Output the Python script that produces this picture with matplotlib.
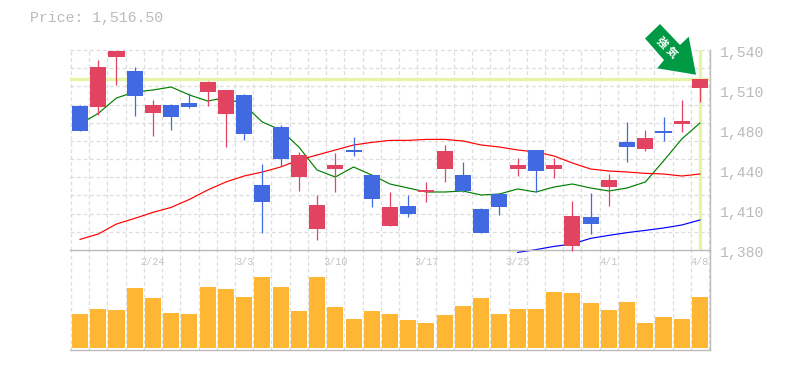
import numpy as np
import matplotlib
matplotlib.use('Agg')
import matplotlib.pyplot as plt
from matplotlib.patches import Polygon, Rectangle

# Daily prices
opens = [1495.2, 1494.4, 1534.4, 1523.2, 1489.6, 1496.0, 1497.6, 1506.4, 1488.8, 1504.0,
         1432.0, 1478.4, 1438.4, 1396.8, 1444.8, 1460.0, 1440.0, 1399.2, 1415.2, 1426.4,
         1444.8, 1440.0, 1412.8, 1424.8, 1444.8, 1460.0, 1444.8, 1383.2, 1406.4, 1430.4,
         1466.4, 1460.8, 1475.2, 1480.8, 1509.6]
closes = [1475.2, 1526.4, 1539.5, 1503.2, 1496.0, 1486.4, 1494.4, 1514.4, 1508.0, 1472.8,
          1418.4, 1452.8, 1456.0, 1416.0, 1448.0, 1458.4, 1420.8, 1414.4, 1408.8, 1428.0,
          1459.2, 1427.2, 1393.6, 1414.4, 1448.0, 1443.2, 1448.0, 1407.2, 1400.8, 1436.0,
          1462.4, 1469.6, 1473.6, 1483.2, 1516.5]
highs = [1496.0, 1532.0, 1539.5, 1526.4, 1500.0, 1496.8, 1505.6, 1515.2, 1508.0, 1504.8,
         1448.8, 1480.0, 1458.4, 1424.0, 1457.6, 1470.4, 1440.0, 1426.4, 1424.0, 1434.4,
         1464.0, 1450.4, 1413.6, 1425.6, 1453.6, 1460.0, 1453.6, 1419.2, 1425.6, 1440.8,
         1482.4, 1476.0, 1486.4, 1500.0, 1516.8]
lows = [1475.2, 1488.0, 1512.0, 1487.2, 1471.2, 1476.0, 1493.6, 1495.2, 1462.4, 1468.0,
        1393.6, 1447.2, 1427.2, 1388.0, 1426.4, 1455.2, 1414.4, 1399.2, 1406.4, 1418.4,
        1434.4, 1426.4, 1393.6, 1408.0, 1439.2, 1426.4, 1437.6, 1379.2, 1392.8, 1415.2,
        1450.4, 1459.2, 1467.2, 1474.4, 1498.4]
volumes = [34, 39, 38, 60, 50, 35, 34, 61, 59, 51, 71, 61, 37, 71, 41, 29, 37, 34,
           28, 25, 33, 42, 50, 34, 39, 39, 56, 55, 45, 38, 46, 25, 31, 29, 51]

# Moving averages
ma_short = [1480.8, 1489.3, 1501.6, 1506.4, 1508.0, 1510.4, 1504.0, 1499.2, 1501.9, 1496.0,
            1482.4, 1476.0, 1462.4, 1444.0, 1438.4, 1446.4, 1440.0, 1432.8, 1429.6, 1426.4,
            1426.4, 1427.2, 1424.0, 1424.8, 1428.8, 1426.4, 1430.4, 1432.8, 1429.6, 1427.2,
            1429.6, 1434.4, 1451.2, 1468.8, 1481.6]
ma_mid = [1388.5, 1392.8, 1400.8, 1405.3, 1410.1, 1414.1, 1420.5, 1428.0, 1434.4, 1439.2,
          1442.4, 1446.4, 1452.0, 1456.0, 1460.0, 1464.0, 1466.1, 1467.7, 1467.7, 1468.5,
          1468.5, 1467.2, 1464.0, 1462.4, 1460.0, 1458.4, 1455.2, 1449.6, 1444.8, 1443.2,
          1442.4, 1441.3, 1440.8, 1439.2, 1440.8]
ma_long = [1378.1, 1380.3, 1382.9, 1384.8, 1389.3, 1391.7, 1393.9, 1395.7, 1397.6, 1400.0, 1404.0]
ma_long_start = 24

last_price = 1516.5
price_ticks = [1380, 1412, 1444, 1476, 1508, 1540]
price_labels = ['1,380', '1,410', '1,440', '1,480', '1,510', '1,540']
date_pos = [4, 9, 14, 19, 24, 29, 34]
date_labels = ['2/24', '3/3', '3/10', '3/17', '3/25', '4/1', '4/8']

W, H = 785, 370
GRID = '#dddddd'
RED = '#e24360'
BLUE = '#4169e1'
LIME = '#e4f5a8'
FRAME = '#bbbbbb'
MONO = 'Liberation Mono'


def axes_px(fig, left, top, right, bottom):
    return fig.add_axes([left / W, 1 - bottom / H, (right - left) / W, (bottom - top) / H])


fig = plt.figure(figsize=(W / 100, H / 100), dpi=100)
ax = axes_px(fig, 70, 50, 710, 250)
vol = axes_px(fig, 70, 250, 710, 350)
ax.set_zorder(2)
ax.patch.set_visible(False)
vol.patch.set_visible(False)

x = np.arange(len(opens))
for a in (ax, vol):
    a.set_xlim(-0.55, 34.55)
    a.set_xticks([])
    a.set_yticks([])
    a.set_axisbelow(True)
    for side in ('top', 'left'):
        a.spines[side].set_visible(False)
    for side in ('right', 'bottom'):
        a.spines[side].set_color(FRAME)
        a.spines[side].set_linewidth(1)
    for gx in np.arange(-0.5, 34.6, 1):
        a.axvline(gx, color=GRID, lw=0.9, ls=(0, (3, 2.2)), zorder=0)

ax.set_ylim(1380, 1540)
vol.set_ylim(-2, 98)

for gy in np.linspace(1380, 1540, 12)[1:]:
    ax.axhline(gy, color=GRID, lw=0.9, ls=(0, (3, 2.2)), zorder=0, clip_on=False)

ax.axhline(last_price, color=LIME, lw=2.4, zorder=1)
ax.axvline(x[-1], ymin=0.005, ymax=0.995, color=LIME, lw=2.4, zorder=1)

ax.plot(x, ma_short, color='#008000', lw=0.85, zorder=2)
ax.plot(x, ma_mid, color='#ff0000', lw=0.85, zorder=2)
ax.plot(x[ma_long_start:], ma_long, color='#0000ff', lw=0.85, zorder=2, clip_on=False)

# Candles: red when the close is above the open
for i in x:
    up = closes[i] >= opens[i]
    c = RED if up else BLUE
    ax.plot([i, i], [lows[i], highs[i]], color=c, lw=0.9, zorder=3, solid_capstyle='butt', clip_on=False)
    ax.add_patch(Rectangle((i - 0.44, min(opens[i], closes[i])), 0.88,
                           abs(closes[i] - opens[i]), facecolor=c, edgecolor='none', zorder=4))

vol.bar(x, volumes, width=0.88, color='#ffb733', zorder=2)

# The labels are spaced evenly along the right side
for v, lab in zip(price_ticks, price_labels):
    ax.annotate(lab, xy=(1, v), xycoords=ax.get_yaxis_transform(), xytext=(9.5, -3),
                textcoords='offset pixels', ha='left', va='center', color='#bbbbbb',
                fontsize=10.7, family=MONO, annotation_clip=False)

for p, lab in zip(date_pos, date_labels):
    vol.text(p, 0.88, lab, transform=vol.get_xaxis_transform(), ha='center', va='center',
             color='#c4c4c4', fontsize=7.3, family=MONO)

fig.text(30 / W, 1 - 18 / H, 'Price: 1,516.50', ha='left', va='center', color='#bbbbbb',
         fontsize=10.7, family=MONO)

# Green pointer with the signal text
arrow_px = [(660, 24), (645, 38.5), (664, 60), (657.3, 68.3), (696, 74.7), (688.7, 36.7), (680, 45)]
fig.add_artist(Polygon([(px / W, 1 - py / H) for px, py in arrow_px], closed=True,
                       transform=fig.transFigure, facecolor='#009944', edgecolor='none', zorder=6))
fig.text(667 / W, 1 - 47 / H, '強 気', rotation=-45, rotation_mode='anchor', ha='center', va='center',
         color='white', fontsize=8, family='Noto Sans CJK JP', fontweight='bold', zorder=7)

fig.savefig('out.png', dpi=100)
